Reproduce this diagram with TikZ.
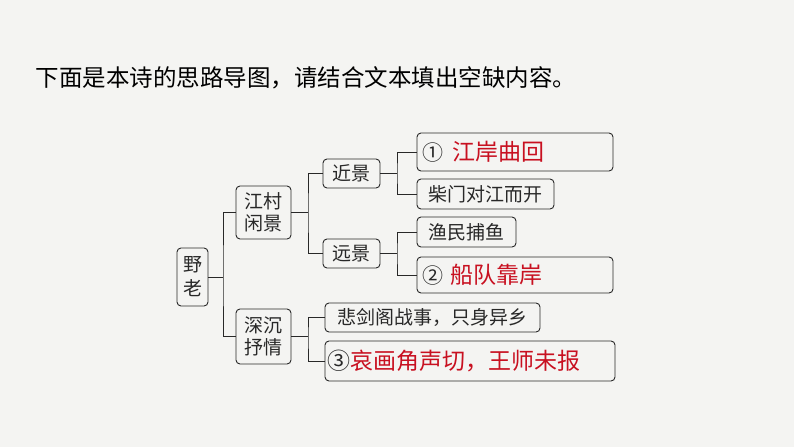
\documentclass[tikz,border=0pt]{standalone}
\usepackage{fontspec}
\setmainfont{Noto Sans CJK SC}
\definecolor{bg}{RGB}{244,244,242}
\definecolor{ink}{RGB}{40,40,40}
\definecolor{hl}{RGB}{200,16,32}
\begin{document}
\begin{tikzpicture}[x=1pt,y=-1pt,
  box/.style={draw=ink,line width=0.9pt,rounded corners=4pt,inner sep=0pt,
    font=\fontsize{19}{22}\selectfont,text=ink},
  widebox/.style={box,inner xsep=5pt,align=left},
  link/.style={draw=ink,line width=0.9pt},
  ans/.style={text=hl}]
\fill[bg] (0,0) rectangle (794,447);
\useasboundingbox (0,0) rectangle (794,447);

\node[anchor=west,font=\fontsize{23.5}{26}\selectfont,text=black] (title) at (32,78)
  {下面是本诗的思路导图，请结合文本填出空缺内容。};

\node[box,minimum width=31pt,minimum height=58pt,align=center,font=\fontsize{19}{24}\selectfont] (yl) at (192.5,277) {野\\老};
\node[box,minimum width=55pt,minimum height=53pt,align=center,font=\fontsize{19}{22}\selectfont] (jc) at (263.5,212.5) {江村\\闲景};
\node[box,minimum width=55pt,minimum height=55pt,align=center,font=\fontsize{19}{22}\selectfont] (sc) at (263.5,336.5) {深沉\\抒情};
\node[box,minimum width=57pt,minimum height=29pt] (jj) at (351.5,173.5) {近景};
\node[box,minimum width=57pt,minimum height=29pt] (yj) at (351.5,253.5) {远景};

\node[widebox,minimum width=196pt,minimum height=38pt,text width=186pt] (s1) at (515,152)
  {{\fontsize{21}{24}\selectfont ①}\hspace{9pt}{\fontsize{23}{26}\selectfont\color{hl}江岸曲回}};
\node[box,minimum width=137pt,minimum height=30pt] (cm) at (485.5,194) {柴门对江而开};
\node[box,minimum width=99pt,minimum height=30pt] (ym) at (466.5,232) {渔民捕鱼};
\node[widebox,minimum width=196pt,minimum height=36pt,text width=186pt] (s2) at (515,275)
  {{\fontsize{21}{24}\selectfont ②}\hspace{7pt}{\fontsize{23}{26}\selectfont\color{hl}船队靠岸}};
\node[box,minimum width=215pt,minimum height=29pt] (bj) at (432.5,317.5) {悲剑阁战事，只身异乡};
\node[widebox,inner xsep=2pt,minimum width=290pt,minimum height=40pt,text width=286pt] (s3) at (470,361)
  {\fontsize{23}{26}\selectfont ③{\color{hl}哀画角声切，王师未报}};

\coordinate (k1) at (223,277);
\coordinate (k2) at (308,212.5);
\coordinate (k3) at (308,336.5);
\coordinate (k4) at (397,173.5);
\coordinate (k5) at (397,253.5);

\draw[link] (yl.east) -- (k1);
\draw[link] (jc.west) -| (k1) |- (sc.west);
\draw[link] (jc.east) -- (k2);
\draw[link] (jj.west) -| (k2) |- (yj.west);
\draw[link] (sc.east) -- (k3);
\draw[link] (bj.west) -| (k3) |- (s3.west);
\draw[link] (jj.east) -- (k4);
\draw[link] (s1.west) -| (k4) |- (cm.west);
\draw[link] (yj.east) -- (k5);
\draw[link] (ym.west) -| (k5) |- (s2.west);
\end{tikzpicture}
\end{document}
